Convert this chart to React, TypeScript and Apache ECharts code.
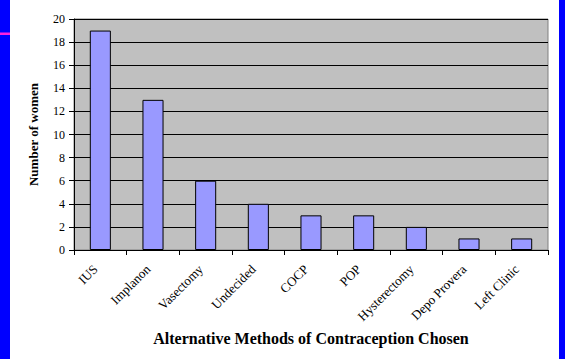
import React, { useEffect, useRef } from "react";
import * as echarts from "echarts";

const categories = ["IUS", "Implanon", "Vasectomy", "Undecided", "COCP", "POP", "Hysterectomy", "Depo Provera", "Left Clinic"];
const women = [19, 13, 6, 4, 3, 3, 2, 1, 1];
const xTitle = "Alternative Methods of Contraception Chosen";
const yTitle = "Number of women";

const W = 565;
const H = 359;
const serif = "'Liberation Serif', 'Times New Roman', serif";

export default function App() {
  const ref = useRef<HTMLDivElement>(null);
  useEffect(() => {
    document.body.style.margin = "0";
    const chart = echarts.init(ref.current!, null, { renderer: "svg" });
    chart.setOption({
      animation: false,
      backgroundColor: "#FFFFFF",
      graphic: [
        { type: "rect", shape: { x: 0, y: 0, width: 10, height: H }, style: { fill: "#0000FF" }, z: 10 },
        { type: "rect", shape: { x: 0, y: 32.5, width: 10, height: 2.5 }, style: { fill: "#FF22DD" }, z: 11 },
        { type: "rect", shape: { x: 559, y: 0, width: 6, height: H }, style: { fill: "#0000FF" }, z: 10 },
      ],
      grid: {
        left: 74,
        top: 19,
        right: 17,
        bottom: 109,
        show: true,
        backgroundColor: "#C0C0C0",
        borderColor: "#808080",
        borderWidth: 1,
      },
      xAxis: {
        type: "category",
        data: categories,
        name: xTitle,
        nameLocation: "middle",
        nameGap: 75,
        nameTextStyle: { fontFamily: serif, fontSize: 16, fontWeight: "bold", color: "#000" },
        axisLine: { show: true, lineStyle: { color: "#000", width: 1 } },
        axisTick: { show: true, length: 5, alignWithLabel: false, lineStyle: { color: "#000" } },
        axisLabel: {
          interval: 0,
          rotate: 45,
          margin: 12,
          padding: [0, 7, 0, 0],
          fontFamily: serif,
          fontSize: 13,
          color: "#000",
        },
        splitLine: { show: false },
      },
      yAxis: {
        type: "value",
        min: 0,
        max: 20,
        interval: 2,
        name: yTitle,
        nameLocation: "middle",
        nameGap: 34,
        nameRotate: 90,
        nameTextStyle: { fontFamily: serif, fontSize: 13, fontWeight: "bold", color: "#000" },
        axisLine: { show: true, lineStyle: { color: "#000", width: 1 } },
        axisTick: { show: true, length: 5, lineStyle: { color: "#000" } },
        axisLabel: { fontFamily: serif, fontSize: 12, color: "#000", margin: 9 },
        splitLine: { show: true, lineStyle: { color: "#000", width: 1 } },
      },
      series: [
        {
          type: "bar",
          data: women,
          barWidth: "40%",
          itemStyle: { color: "#9999FF", borderColor: "#000", borderWidth: 1 },
        },
      ],
    });
    return () => chart.dispose();
  }, []);
  return <div ref={ref} style={{ width: W, height: H }} />;
}
